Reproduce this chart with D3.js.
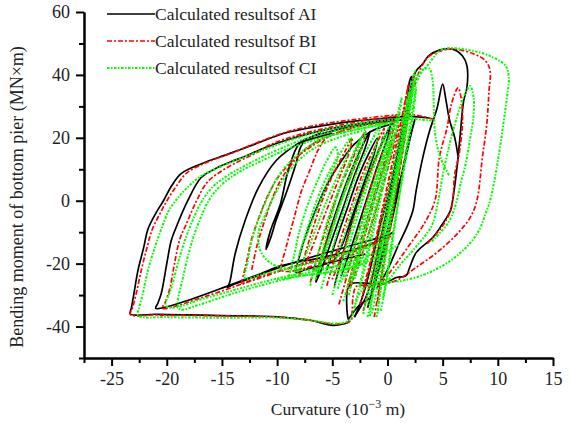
<!DOCTYPE html>
<html><head><meta charset="utf-8">
<script src="https://cdn.jsdelivr.net/npm/d3@7/dist/d3.min.js"></script>
<style>
html,body{margin:0;padding:0;background:#fff;}
svg{display:block;font-family:"Liberation Serif","Times New Roman",serif;}
</style></head>
<body>
<svg id="chart" width="570" height="423"></svg>
<script>
// ---------- labels & ticks ----------
const seriesNames = ["Calculated resultsof AI", "Calculated resultsof BI", "Calculated resultsof CI"];
const seriesColors = ["#000000", "#ff0000", "#00ff00"];
const xMajorTicks = [-25, -20, -15, -10, -5, 0, 5, 10, 15];
const xMinorTicks = [-27.5, -22.5, -17.5, -12.5, -7.5, -2.5, 2.5, 7.5, 12.5];
const yMajorTicks = [-40, -20, 0, 20, 40, 60];
const yMinorTicks = [-50, -30, -10, 10, 30, 50];

// ---------- series A (black) loops: [curvature, moment] ----------
const aOuter = [[3.8,26.3],[2,26.8],[0,26.3],[-3,25.3],[-6,23.8],[-9.2,21.6],[-12,18],[-14.4,14.9],[-16.9,11.7],[-18.7,8.6],[-19.6,4.5],[-20.3,0],[-21,-4],[-21.7,-9],[-22.1,-15],[-22.6,-22],[-23,-30],[-23.2,-34],[-23.3,-36],[-21,-36.1],[-20,-36.2],[-15,-36.5],[-10,-36.9],[-7,-38],[-5,-39.6],[-4,-39.2],[-3.5,-38.5],[-3.6,-37],[-3.7,-32],[-3.6,-28],[-3.2,-26.3],[-2,-26.2],[-0.3,-26.3],[0.8,-24.4],[1.7,-23.8],[2,-21.3],[2.6,-16.5],[4.1,-11.7],[5,-7.3],[5.7,-3.2],[5.9,0],[6.3,10.5],[6.6,21.3],[6.9,31.7],[7.2,36],[7.2,42.9],[6.8,46],[5.9,48.2],[4.7,47.9],[3.7,46],[3.2,43.5],[2.6,41.3],[2.2,37],[1.8,30],[1.2,20],[0.3,5],[-0.8,-10],[-1.8,-25],[-2.5,-33],[-3,-37]];
const aLoop2 = [[1,26],[-2,24.8],[-5,23],[-8,20.5],[-11,17],[-13,14],[-14.4,12.1],[-15.6,10.2],[-16.9,7.3],[-18.1,0],[-19.2,-8.9],[-19.6,-12.7],[-20,-20],[-20.5,-29.5],[-20.8,-32.5],[-21,-34.2],[-20.3,-34],[-18.1,-31.7],[-14.4,-27],[-11.5,-23.2],[-9.6,-20.6],[-6.5,-18.5],[-3.5,-16],[-1,-13],[0.5,-10]];
const aLoop3 = [[0,-11],[-3,-14],[-6,-17],[-9.6,-21],[-12.5,-24.8],[-14.2,-27],[-14.5,-27.6],[-14.3,-26],[-13.8,-16.8],[-12.9,-6.3],[-11.7,4.1],[-10.1,12.7],[-8.7,16.8],[-7.1,20],[-4,23],[-1,24.8],[1.5,25.8]];
const aTongue = [[-5,21.5],[-7,19.5],[-8,18.1],[-9,9.5],[-9.7,-1],[-10.6,-9.5],[-11,-15.5],[-10.6,-12],[-10.1,-6.3],[-9.2,2.2],[-8.3,11.7],[-7.9,16.8],[-7.5,19],[-6,21.5]];
const aLoop4 = [[-2,-17],[-5,-19.5],[-7.5,-22],[-8.3,-22.8],[-8,-18],[-7.3,-10],[-6.5,-3],[-5.5,5],[-4.3,12],[-3,18],[-1.5,22],[0.5,24.5]];
const aCenter1 = [[-6.5,-26],[-5.8,-16],[-4.8,-5],[-3.8,5],[-3,12],[-2.2,18],[-1.6,22],[-2,17],[-3,8],[-4,-2],[-5,-12],[-6,-22],[-6.5,-26]];
const aCenter2 = [[-4.8,-27],[-3.8,-14],[-2.8,-2],[-1.5,10],[-0.4,19],[0.3,24],[0,20],[-1,10],[-2.2,-3],[-3.3,-15],[-4.2,-24]];
const aCenter3 = [[-3,-37],[-2,-31],[-1.5,-26],[-0.8,-15],[0,-2],[0.7,10],[1.3,22],[1.8,31],[2,38],[2.2,39.5],[2.1,35],[1.6,25],[0.9,12],[0.2,0],[-0.5,-12],[-1,-22],[-1.5,-30],[-1.8,-34]];
const aCenter4 = [[-3.5,-37.5],[-2.5,-33],[-1.6,-30.8],[-0.8,-22],[0,-12],[0.8,0],[1.5,12],[2,20],[2.5,26],[2.2,22],[1.4,10],[0.5,-2],[-0.3,-14],[-1,-24]];
const aCenter5 = [[-5.5,-22],[-4.6,-12],[-3.6,-2],[-2.6,8],[-1.7,15],[-0.9,20],[-1.2,15],[-2.1,6],[-3.1,-4],[-4.1,-14],[-5,-20]];
const aSpike = [[-1,-28],[0,-22],[1,-14],[1.8,-8],[2.3,-3.2],[2.6,3.2],[3.2,13.7],[3.8,22],[4.5,29.5],[5,37.1],[5.3,32],[5.6,26],[6.1,20],[6.4,14]];

// ---------- series B (red) loops ----------
const bOuter = [[4.1,26],[2,27.5],[0,27],[-3,25.8],[-6,24.3],[-9,22],[-11.8,18.5],[-14,15.3],[-16.5,12],[-18.2,8.8],[-19.1,4.8],[-19.9,0.5],[-20.6,-4],[-21.3,-9],[-21.8,-15],[-22.3,-22],[-22.8,-30],[-23.1,-34],[-23.3,-36.2],[-21,-36.3],[-20,-36.4],[-15,-36.6],[-10,-37],[-7,-38],[-5,-39.2],[-4,-39],[-3.3,-38],[-3.2,-35],[-3.1,-30],[-2.8,-27.2],[-1.5,-27],[-0.5,-26.5],[0.8,-25.4],[2.6,-21.2],[4.5,-16.4],[6.3,-10.6],[7.5,-5.3],[8.1,0],[8.6,13.7],[9,24.4],[9.2,34.9],[9.3,41.3],[8.9,44.4],[7.8,46.7],[5.7,48.2],[3.8,46],[2.9,41.3],[2.4,36],[1.9,28],[1.2,16],[0.2,0],[-0.8,-15],[-1.6,-27],[-2.2,-35]];
const bSpike = [[-0.5,-26],[0.8,-20],[2,-14],[3.2,-8],[4.3,0],[4.7,13.7],[5.4,23.2],[5.8,30.8],[6.4,35.9],[6.7,32],[6.8,25],[6.5,15],[6.1,8.6],[5.8,-2.2],[5,-8],[3.5,-14]];
const bLoop2 = [[1,27],[-2,25.5],[-5,23.5],[-8,21],[-10.5,18],[-12,15],[-13.5,12.5],[-15,9.5],[-16.3,6],[-17.3,0],[-18.3,-8],[-18.8,-12],[-19.3,-20],[-19.7,-27.6],[-20.1,-32],[-20.4,-34.2],[-19.5,-33.8],[-17,-31],[-14,-27.5],[-11,-23.5],[-8,-20.5],[-5,-18],[-2,-15],[0.5,-11]];
const bLoop3 = [[0,-12],[-3,-15.5],[-6,-18.5],[-9,-21.5],[-11.5,-24.5],[-13,-26.3],[-13.2,-26.7],[-12.8,-20],[-12.3,-12],[-11.5,-4],[-10.8,2],[-9.8,8],[-8.5,13],[-7,17],[-5,21],[-2,24],[1,25.5]];
const bLoop4 = [[-3,-17],[-6,-20],[-9,-22.5],[-9.6,-22],[-9.2,-15],[-8.5,-6],[-7.8,3],[-7,10],[-6.3,16],[-5.5,20],[-3,23.5]];
const bLoop5 = [[-12.3,-22],[-11.8,-14],[-11.1,-6],[-10.4,1],[-9.6,7],[-8.6,12],[-7.4,16.5],[-5.8,20]];
const bCenter1 = [[-7,-26],[-6.2,-16],[-5.2,-5],[-4.2,5],[-3.3,12],[-2.5,19],[-2,22],[-2.3,17],[-3.3,8],[-4.4,-2],[-5.4,-12],[-6.4,-22]];
const bCenter2 = [[-5.5,-27],[-4.5,-15],[-3.4,-3],[-2.2,9],[-1,18],[-0.3,23],[-0.6,18],[-1.7,8],[-2.9,-4],[-4,-16],[-5,-25]];
const bCenter3 = [[-3.8,-30],[-2.8,-20],[-1.8,-8],[-0.8,5],[0.3,17],[1,24],[0.7,19],[-0.3,6],[-1.3,-6],[-2.4,-18],[-3.4,-28]];
const bCenter4 = [[-1.2,-37],[-0.6,-25],[0.2,-10],[0.9,5],[1.5,18],[2,30],[2.3,38],[2.4,40.5],[2.1,34],[1.6,22],[1,8],[0.3,-6],[-0.4,-20],[-0.9,-32]];
const bCenter5 = [[-2.5,-33],[-1.8,-24],[-1,-12],[-0.2,0],[0.6,12],[1.3,24],[1.7,33],[1.9,37],[1.5,30],[0.8,18],[0,5],[-0.8,-8],[-1.6,-20],[-2.2,-28]];
const bCenter6 = [[-8,-24],[-7.3,-15],[-6.5,-6],[-5.6,3],[-4.7,10],[-3.8,16],[-3.2,20],[-3.5,15],[-4.4,7],[-5.4,-2],[-6.4,-11],[-7.4,-20]];
const bCenter7 = [[-4.4,-33],[-3.6,-23],[-2.7,-11],[-1.8,1],[-0.8,12],[0.1,20],[0.6,25],[0.3,19],[-0.6,9],[-1.6,-3],[-2.6,-15],[-3.6,-27]];

// ---------- series C (green) loops ----------
const cOuter = [[4,25.5],[2,26],[0,25.6],[-2.5,24.6],[-5.5,22.6],[-8.5,19.6],[-11,16.5],[-13.5,13.2],[-15.5,10.2],[-17,7.6],[-18.2,4],[-19.2,0],[-19.8,-3],[-20.5,-9],[-21.1,-15],[-21.7,-22],[-22.2,-30],[-22.5,-34],[-22.6,-36.5],[-20,-37],[-15,-37.2],[-10,-37.2],[-7,-38],[-5,-39],[-4,-38.8],[-3.3,-37.5],[-3,-34],[-2.6,-30],[-2,-27.5],[-0.1,-26],[1.4,-25.4],[3.8,-22.8],[6.3,-17.5],[8.1,-10.6],[9,-3],[9.3,0],[9.9,10.5],[10.5,24.4],[10.9,34.9],[11,39],[10.7,42.9],[9.3,46],[7.5,47.8],[5.5,48.5],[4.7,47.6],[3.6,42.9],[2.8,40.3],[2.3,36],[1.8,28],[1.2,16],[0.3,0],[-0.6,-15],[-1.3,-28],[-1.6,-37]];
const cSpike = [[-0.2,-27],[1,-21],[2.5,-15],[4,-8],[4.6,0],[5,8],[5.5,16],[6,23],[6.6,30],[7.1,34.5],[7.5,36.5],[7.8,33],[7.8,27],[7.5,20],[7.1,12],[6.6,5],[6.2,-1],[5.5,-7],[4,-13]];
const cPeak2 = [[2,32],[2.8,39],[3.3,41.8],[3.8,42],[4.1,38],[4.2,30],[4.3,22],[4.6,16],[5,12],[5.6,8]];
const cLoop2a = [[1,25],[-2,24],[-5,22],[-8,19],[-11,14.5],[-13,11],[-14.5,8],[-15.8,4.5],[-16.8,0],[-17.5,-5],[-18.3,-12],[-19,-20],[-19.6,-28],[-20.1,-33.3],[-19.4,-34],[-17,-31.5],[-13,-27.5],[-9.6,-24.4],[-6,-22],[-3,-19],[0,-15]];
const cLoop2b = [[0,24.5],[-3,22.5],[-6,20],[-9,16.5],[-11.5,12.5],[-13.5,9],[-15.2,4.5],[-16.2,0],[-17,-6],[-17.8,-14],[-18.5,-24],[-19,-32.7],[-18.8,-34.5],[-17,-33],[-14,-29.5],[-11,-26.5],[-8,-24],[-5,-22.5],[-2,-20]];
const cLoop3 = [[0,-13],[-3,-16],[-6,-19],[-9,-21.5],[-11.5,-23.5],[-12.9,-24.8],[-12.7,-20],[-12.3,-12.7],[-11.7,-6],[-11,0],[-10.2,6],[-9.2,11],[-7.8,15.5],[-6,19.5],[-3,22.5],[0,24.5]];
const cLoop3b = [[-2,-19],[-5,-21],[-8,-22],[-10.5,-20],[-11.5,-16],[-11.7,-10.5],[-11,-4],[-10.2,2],[-9.2,8],[-8,13],[-6.5,17],[-4.5,20],[-2,22.5]];
const cCenter1 = [[-8.5,-24],[-7.8,-15],[-7,-6],[-6.2,2],[-5.3,9],[-4.3,15],[-3.3,20],[-3.6,15],[-4.5,8],[-5.5,0],[-6.5,-9],[-7.5,-18],[-8.2,-23]];
const cCenter2 = [[-7,-27],[-6.3,-17],[-5.5,-7],[-4.6,2],[-3.7,10],[-2.8,17],[-2,22],[-2.4,16],[-3.4,7],[-4.4,-2],[-5.3,-12],[-6.3,-22]];
const cCenter3 = [[-6,-28],[-5.2,-18],[-4.3,-7],[-3.3,4],[-2.3,13],[-1.3,20],[-0.7,24],[-1,18],[-2,9],[-3,-1],[-4,-12],[-5,-22]];
const cCenter4 = [[-5,-30],[-4.2,-20],[-3.2,-8],[-2.2,3],[-1.2,13],[-0.2,21],[0.4,25],[0.1,19],[-0.9,8],[-1.9,-3],[-2.9,-14],[-3.9,-25]];
const cCenter5 = [[-4,-32],[-3.2,-22],[-2.3,-10],[-1.4,2],[-0.5,13],[0.4,22],[1,27],[0.7,21],[-0.2,10],[-1.1,-2],[-2,-14],[-3,-25]];
const cCenter6 = [[-1.8,-37],[-1.2,-28],[-0.5,-15],[0.2,-2],[0.8,10],[1.4,22],[1.9,32],[2.3,39],[2.5,41],[2.3,35],[1.8,24],[1.1,11],[0.4,-2],[-0.3,-15],[-0.9,-27],[-1.4,-36]];
const cCenter7 = [[-1,-37],[-0.5,-26],[0,-14],[0.5,-2],[1,10],[1.6,22],[2.1,32],[2.4,38],[2,30],[1.4,18],[0.8,6],[0.2,-6],[-0.3,-18],[-0.7,-30],[-0.9,-36]];
const cCenter8 = [[-3,-34],[-2.4,-25],[-1.7,-14],[-1,-3],[-0.3,8],[0.3,18],[0.9,27],[1.3,33],[1,26],[0.3,15],[-0.4,4],[-1.1,-7],[-1.8,-18],[-2.5,-28]];
const cCenter9 = [[-9,-25],[-8.5,-18],[-8,-10],[-7.3,-2],[-6.5,5],[-5.6,12],[-4.7,17],[-4.5,14],[-5.3,7],[-6.2,-1],[-7.1,-9],[-8,-17]];
const cCenter10 = [[-6.5,-25],[-5.8,-15],[-5,-4],[-4.1,6],[-3.2,14],[-2.4,20],[-2.8,14],[-3.7,5],[-4.6,-5],[-5.5,-15],[-6.2,-22]];
const cCenter11 = [[-4.5,-28],[-3.7,-17],[-2.8,-6],[-1.8,5],[-0.9,14],[-0.1,21],[-0.4,15],[-1.3,5],[-2.3,-6],[-3.3,-17],[-4.2,-26]];
const cCenter12 = [[-2.2,-36],[-1.6,-26],[-0.9,-14],[-0.2,-2],[0.5,10],[1.1,20],[1.7,30],[2,35],[1.6,26],[1,15],[0.3,3],[-0.4,-10],[-1.1,-22],[-1.8,-33]];
const cCenter13 = [[-0.6,-35],[0,-24],[0.5,-12],[1,0],[1.5,12],[2,23],[2.4,32],[2.6,36],[2.3,27],[1.8,16],[1.2,4],[0.6,-8],[0.1,-20],[-0.4,-31]];
const cCenter14 = [[-3.5,-30],[-2.8,-20],[-2,-9],[-1.2,2],[-0.4,12],[0.3,19],[0,14],[-0.8,5],[-1.7,-6],[-2.6,-17],[-3.3,-26]];
const cLower = [[-10,-25],[-7,-23.5],[-4,-22],[-1,-18],[1,-14]];

const seriesA = [aOuter, aLoop2, aLoop3, aTongue, aLoop4, aCenter1, aCenter2, aCenter3, aCenter4, aCenter5, aSpike];
const seriesB = [bOuter, bSpike, bLoop2, bLoop3, bLoop4, bLoop5, bCenter1, bCenter2, bCenter3, bCenter4, bCenter5, bCenter6, bCenter7];
const seriesC = [cOuter, cSpike, cPeak2, cLoop2a, cLoop2b, cLoop3, cLoop3b, cCenter1, cCenter2, cCenter3, cCenter4, cCenter5, cCenter6, cCenter7, cCenter8, cCenter9, cCenter10, cCenter11, cCenter12, cCenter13, cCenter14, cLower];

// ---------- drawing ----------
const svg = d3.select("#chart");
const x = d3.scaleLinear().domain([-27.5, 15]).range([84, 553]);
const y = d3.scaleLinear().domain([-50, 60]).range([358, 12]);

const line = d3.line().x(d => x(d[0])).y(d => y(d[1])).curve(d3.curveCatmullRom.alpha(0.5));

const styles = [
  {color: seriesColors[0], dash: null, width: 1.7},
  {color: seriesColors[1], dash: "5,2,2,2", width: 1.7},
  {color: seriesColors[2], dash: "2.5,1.5,1.5,1.5", width: 2}
];
[seriesA, seriesB, seriesC].forEach((ser, i) => {
  svg.append("g").selectAll("path").data(ser).join("path")
    .attr("d", line)
    .attr("fill", "none")
    .attr("stroke", styles[i].color)
    .attr("stroke-width", styles[i].width)
    .attr("stroke-dasharray", styles[i].dash)
    .attr("stroke-linejoin", "round");
});

// axes
const axisStyle = g => {
  g.select(".domain").attr("stroke", "#000").attr("stroke-width", 2);
  g.selectAll(".tick line").attr("stroke", "#000").attr("stroke-width", 2);
  g.selectAll("text").attr("font-family", '"Liberation Serif","Times New Roman",serif').attr("font-size", 18).attr("fill", "#222");
};
svg.append("g").attr("transform", "translate(0,358)")
  .call(d3.axisBottom(x).tickValues(xMinorTicks).tickSize(5).tickSizeOuter(0).tickFormat(""))
  .call(axisStyle);
svg.append("g").attr("transform", "translate(0,358)")
  .call(d3.axisBottom(x).tickValues(xMajorTicks).tickSize(8).tickSizeOuter(0).tickPadding(6).tickFormat(d => String(d)))
  .call(axisStyle);
svg.append("g").attr("transform", "translate(84,0)")
  .call(d3.axisLeft(y).tickValues(yMinorTicks).tickSize(5).tickSizeOuter(0).tickFormat(""))
  .call(axisStyle);
svg.append("g").attr("transform", "translate(84,0)")
  .call(d3.axisLeft(y).tickValues(yMajorTicks).tickSize(8).tickSizeOuter(0).tickPadding(6).tickFormat(d => String(d)))
  .call(axisStyle);

// axis titles
svg.append("text")
  .attr("transform", "translate(23,197) rotate(-90)")
  .attr("text-anchor", "middle")
  .attr("font-size", 18).attr("fill", "#222")
  .text("Bending moment of bottom pier (MN×m)");
const xt = svg.append("text")
  .attr("x", 338).attr("y", 415)
  .attr("text-anchor", "middle")
  .attr("font-size", 17.5).attr("fill", "#222");
xt.append("tspan").text("Curvature (10");
xt.append("tspan").attr("dy", -7).attr("font-size", 12).text("−3");
xt.append("tspan").attr("dy", 7).text(" m)");

// legend
const legend = svg.append("g");
seriesNames.forEach((name, i) => {
  const yy = 14 + i * 27;
  legend.append("line")
    .attr("x1", 107).attr("x2", 155).attr("y1", yy).attr("y2", yy)
    .attr("stroke", styles[i].color).attr("stroke-width", styles[i].width)
    .attr("stroke-dasharray", styles[i].dash);
  legend.append("text")
    .attr("x", 155).attr("y", yy + 6)
    .attr("font-size", 17.5).attr("fill", "#222")
    .text(name);
});
</script>
</body></html>
